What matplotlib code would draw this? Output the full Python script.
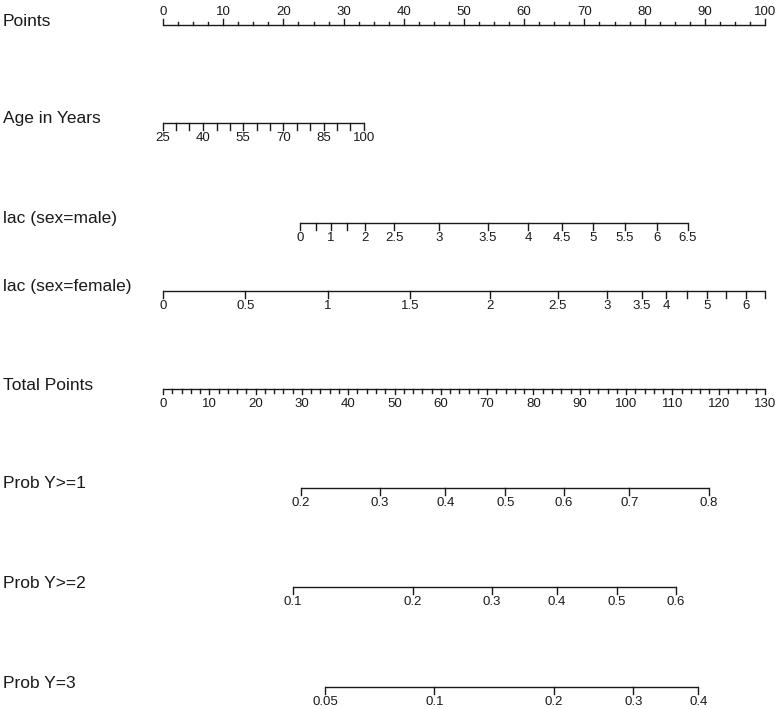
#!/usr/bin/env python3
"""
Nomogram: points, age, lactate (by sex), total points and outcome probabilities.
"""

import matplotlib.pyplot as plt
import matplotlib.transforms as mtransforms

plt.rcParams['font.family'] = ['Liberation Sans', 'DejaVu Sans']

# --- data ------------------------------------------------------------------
# Points scale (0-100)
points_ticks = [0, 10, 20, 30, 40, 50, 60, 70, 80, 90, 100]

# Age in Years -> points
age_values = [25, 30, 35, 40, 45, 50, 55, 60, 65, 70, 75, 80, 85, 90, 95, 100]
age_points = [0.0, 2.2, 4.4, 6.7, 8.9, 11.1, 13.3, 15.6, 17.8, 20.0, 22.2,
              24.4, 26.7, 28.9, 31.1, 33.4]
age_labels = ['25', '', '', '40', '', '', '55', '', '', '70', '', '', '85', '', '', '100']

# lac (sex=male) -> points
lac_male_values = [0, 0.5, 1, 1.5, 2, 2.5, 3, 3.5, 4, 4.5, 5, 5.5, 6, 6.5]
lac_male_points = [22.8, 25.4, 27.9, 30.6, 33.6, 38.4, 45.9, 54.0, 60.7, 66.2,
                   71.5, 76.7, 82.0, 87.2]
lac_male_labels = ['0', '', '1', '', '2', '2.5', '3', '3.5', '4', '4.5', '5',
                   '5.5', '6', '6.5']

# lac (sex=female) -> points
lac_female_values = [0, 0.5, 1, 1.5, 2, 2.5, 3, 3.5, 4, 4.5, 5, 5.5, 6, 6.5]
lac_female_points = [0.0, 13.7, 27.4, 41.0, 54.3, 65.6, 73.8, 79.5, 83.6, 87.1,
                     90.3, 93.6, 96.8, 100.0]
lac_female_labels = ['0', '0.5', '1', '1.5', '2', '2.5', '3', '3.5', '4', '',
                     '5', '', '6', '']

# Total points scale (0-130)
total_max = 130
total_ticks = [0, 10, 20, 30, 40, 50, 60, 70, 80, 90, 100, 110, 120, 130]

# Probabilities -> total points
prob1_values = [0.2, 0.3, 0.4, 0.5, 0.6, 0.7, 0.8]
prob1_total = [29.7, 46.9, 61.0, 73.9, 86.6, 100.7, 117.9]

prob2_values = [0.1, 0.2, 0.3, 0.4, 0.5, 0.6]
prob2_total = [28.1, 53.9, 71.0, 85.1, 98.0, 110.8]

prob3_values = [0.05, 0.1, 0.2, 0.3, 0.4]
prob3_total = [35.0, 58.6, 84.4, 101.6, 115.6]

# --- drawing ------------------------------------------------------------------
W, H = 778, 709
X0, X1 = 163, 765          # pixel columns of 0 and 100 points
PX = (X1 - X0) / 100.0

fig = plt.figure(figsize=(W / 100, H / 100), dpi=100)
ax = fig.add_axes([0, 0, 1, 1])
ax.set_xlim(-X0 / PX, (W - X0) / PX)
ax.set_ylim(H, 0)
ax.axis('off')

LC = '#1a1a1a'
TICK_FS = 9.5
NAME_FS = 12.5
name_tr = mtransforms.blended_transform_factory(fig.transFigure, ax.transData)


def draw_axis(y, pos, labels, name, tick_len=7, minor=None, minor_len=None,
              up=False):
    """Horizontal scale at pixel row y with ticks at point positions."""
    ax.plot([min(pos), max(pos)], [y, y], color=LC, lw=1, solid_capstyle='butt')
    sgn = -1 if up else 1
    for p, lab in zip(pos, labels):
        ax.plot([p, p], [y, y + sgn * tick_len], color=LC, lw=1)
        if lab:
            if up:
                ax.text(p, y - 10, lab, ha='center', va='baseline',
                        fontsize=TICK_FS, color=LC)
            else:
                ax.text(p, y + 9, lab, ha='center', va='top',
                        fontsize=TICK_FS, color=LC)
    if minor is not None:
        for p in minor:
            ax.plot([p, p], [y, y + sgn * minor_len], color=LC, lw=1)
    ax.text(3 / W, y - 4, name, transform=name_tr, ha='left', va='center',
            fontsize=NAME_FS, color=LC)


def to_x(total):
    return [t * 100.0 / total_max for t in total]


# Points
pts_minor = [i * 2.5 for i in range(41) if (i * 2.5) % 10 != 0]
draw_axis(25, points_ticks, [str(v) for v in points_ticks], 'Points',
          tick_len=6, minor=pts_minor, minor_len=3, up=True)

draw_axis(123, age_points, age_labels, 'Age in Years')
draw_axis(223, lac_male_points, lac_male_labels, 'lac (sex=male)')
draw_axis(291, lac_female_points, lac_female_labels, 'lac (sex=female)')

tot_minor = [v for v in range(0, total_max + 1, 2) if v % 10 != 0]
draw_axis(389, to_x(total_ticks), [str(v) for v in total_ticks], 'Total Points',
          tick_len=5, minor=to_x(tot_minor), minor_len=4)

draw_axis(488, to_x(prob1_total), [f'{v:g}' for v in prob1_values], 'Prob Y>=1')
draw_axis(587, to_x(prob2_total), [f'{v:g}' for v in prob2_values], 'Prob Y>=2')
draw_axis(687, to_x(prob3_total), [f'{v:g}' for v in prob3_values], 'Prob Y=3')

fig.savefig('out.png', dpi=100)
